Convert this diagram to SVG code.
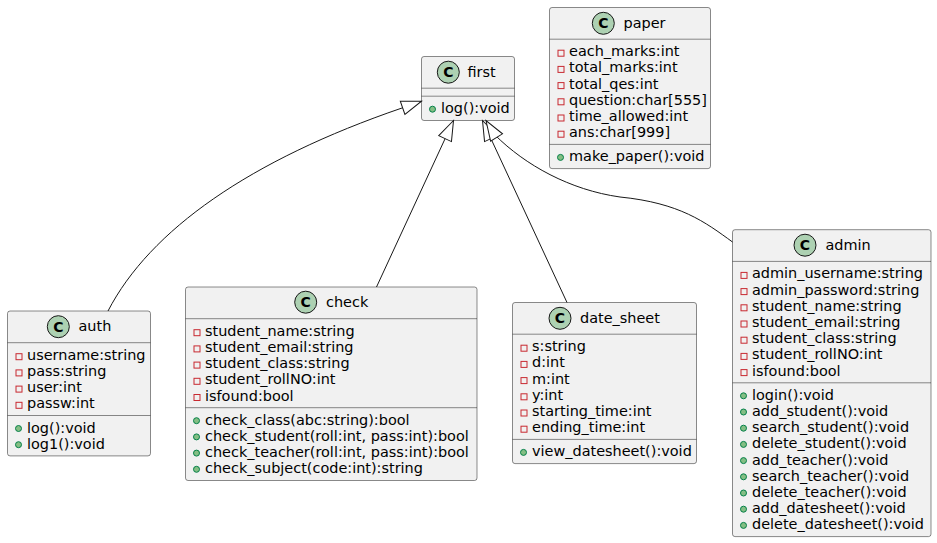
<svg xmlns="http://www.w3.org/2000/svg" width="937" height="543" viewBox="0 0 937 543">
<style>
.box{fill:#F1F1F1;stroke:#181818;stroke-width:0.5}
.div{stroke:#181818;stroke-width:0.5}
.circ{fill:#ADD1B2;stroke:#181818;stroke-width:1}
.cl{font-family:"DejaVu Sans",sans-serif;font-size:14px;font-weight:bold;fill:#000;text-anchor:middle}
.t{font-family:"DejaVu Sans",sans-serif;font-size:14.45px;fill:#000}
.priv{fill:none;stroke:#C82930;stroke-width:1}
.pub{fill:#84BE84;stroke:#038048;stroke-width:1}
.edge{fill:none;stroke:#181818;stroke-width:1}
</style>
<defs>
<marker id="ext" markerUnits="userSpaceOnUse" viewBox="-1 -1 22 16" markerWidth="22" markerHeight="16" refX="20" refY="7" orient="auto" overflow="visible">
<path d="M0,0 L20,7 L0,14 Z" fill="#FFFFFF" stroke="#181818" stroke-width="1"/>
</marker>
</defs>
<rect width="937" height="543" fill="#FFFFFF"/>

<g id="first">
<rect class="box" x="421.5" y="56.5" width="93" height="64" rx="2.5"/>
<circle class="circ" cx="448.3" cy="72.2" r="11"/>
<text class="cl" x="448.3" y="77.2">C</text>
<text class="t" x="467.5" y="76.7">first</text>
<line class="div" x1="421.5" y1="88.2" x2="514.5" y2="88.2"/>
<line class="div" x1="421.5" y1="96.2" x2="514.5" y2="96.2"/>
<circle class="pub" cx="432.5" cy="109.2" r="3"/>
<text class="t" x="441" y="113.2">log():void</text>
</g>

<g id="paper">
<rect class="box" x="549.5" y="7.5" width="161" height="161.1" rx="2.5"/>
<circle class="circ" cx="603.3" cy="23.3" r="11"/>
<text class="cl" x="603.3" y="28.3">C</text>
<text class="t" x="623.5" y="27.8">paper</text>
<line class="div" x1="549.5" y1="39.2" x2="710.5" y2="39.2"/>
<rect class="priv" x="558" y="50.2" width="6" height="6"/><text class="t" x="569" y="56.2">each_marks:int</text>
<rect class="priv" x="558" y="66.4" width="6" height="6"/><text class="t" x="569" y="72.4">total_marks:int</text>
<rect class="priv" x="558" y="82.6" width="6" height="6"/><text class="t" x="569" y="88.6">total_qes:int</text>
<rect class="priv" x="558" y="98.8" width="6" height="6"/><text class="t" x="569" y="104.8">question:char[555]</text>
<rect class="priv" x="558" y="115" width="6" height="6"/><text class="t" x="569" y="121">time_allowed:int</text>
<rect class="priv" x="558" y="131.2" width="6" height="6"/><text class="t" x="569" y="137.2">ans:char[999]</text>
<line class="div" x1="549.5" y1="144.4" x2="710.5" y2="144.4"/>
<circle class="pub" cx="560.5" cy="157.4" r="3"/><text class="t" x="569" y="161.4">make_paper():void</text>
</g>

<g id="auth">
<rect class="box" x="7.5" y="311" width="143" height="144.9" rx="2.5"/>
<circle class="circ" cx="58.3" cy="326.7" r="11"/>
<text class="cl" x="58.3" y="331.7">C</text>
<text class="t" x="78.5" y="330.7">auth</text>
<line class="div" x1="7.5" y1="342.7" x2="150.5" y2="342.7"/>
<rect class="priv" x="16" y="353.7" width="6" height="6"/><text class="t" x="27" y="359.7">username:string</text>
<rect class="priv" x="16" y="369.9" width="6" height="6"/><text class="t" x="27" y="375.9">pass:string</text>
<rect class="priv" x="16" y="386.1" width="6" height="6"/><text class="t" x="27" y="392.1">user:int</text>
<rect class="priv" x="16" y="402.3" width="6" height="6"/><text class="t" x="27" y="408.3">passw:int</text>
<line class="div" x1="7.5" y1="415.5" x2="150.5" y2="415.5"/>
<circle class="pub" cx="18.5" cy="428.5" r="3"/><text class="t" x="27" y="432.5">log():void</text>
<circle class="pub" cx="18.5" cy="444.7" r="3"/><text class="t" x="27" y="448.7">log1():void</text>
</g>

<g id="check">
<rect class="box" x="185.5" y="287" width="291.5" height="193.5" rx="2.5"/>
<circle class="circ" cx="305.7" cy="302.2" r="11"/>
<text class="cl" x="305.7" y="307.2">C</text>
<text class="t" x="326" y="306.7">check</text>
<line class="div" x1="185.5" y1="318.7" x2="477" y2="318.7"/>
<rect class="priv" x="194" y="329.7" width="6" height="6"/><text class="t" x="205" y="335.7">student_name:string</text>
<rect class="priv" x="194" y="345.9" width="6" height="6"/><text class="t" x="205" y="351.9">student_email:string</text>
<rect class="priv" x="194" y="362.1" width="6" height="6"/><text class="t" x="205" y="368.1">student_class:string</text>
<rect class="priv" x="194" y="378.3" width="6" height="6"/><text class="t" x="205" y="384.3">student_rollNO:int</text>
<rect class="priv" x="194" y="394.5" width="6" height="6"/><text class="t" x="205" y="400.5">isfound:bool</text>
<line class="div" x1="185.5" y1="407.7" x2="477" y2="407.7"/>
<circle class="pub" cx="196.5" cy="420.7" r="3"/><text class="t" x="205" y="424.7">check_class(abc:string):bool</text>
<circle class="pub" cx="196.5" cy="436.9" r="3"/><text class="t" x="205" y="440.9">check_student(roll:int, pass:int):bool</text>
<circle class="pub" cx="196.5" cy="453.1" r="3"/><text class="t" x="205" y="457.1">check_teacher(roll:int, pass:int):bool</text>
<circle class="pub" cx="196.5" cy="469.3" r="3"/><text class="t" x="205" y="473.3">check_subject(code:int):string</text>
</g>

<g id="date_sheet">
<rect class="box" x="512.5" y="302.5" width="184" height="161.1" rx="2.5"/>
<circle class="circ" cx="560" cy="318.3" r="11"/>
<text class="cl" x="560" y="323.3">C</text>
<text class="t" x="580" y="322.5">date_sheet</text>
<line class="div" x1="512.5" y1="334.2" x2="696.5" y2="334.2"/>
<rect class="priv" x="521" y="345.2" width="6" height="6"/><text class="t" x="532" y="351.2">s:string</text>
<rect class="priv" x="521" y="361.4" width="6" height="6"/><text class="t" x="532" y="367.4">d:int</text>
<rect class="priv" x="521" y="377.6" width="6" height="6"/><text class="t" x="532" y="383.6">m:int</text>
<rect class="priv" x="521" y="393.8" width="6" height="6"/><text class="t" x="532" y="399.8">y:int</text>
<rect class="priv" x="521" y="410" width="6" height="6"/><text class="t" x="532" y="416">starting_time:int</text>
<rect class="priv" x="521" y="426.2" width="6" height="6"/><text class="t" x="532" y="432.2">ending_time:int</text>
<line class="div" x1="512.5" y1="439.4" x2="696.5" y2="439.4"/>
<circle class="pub" cx="523.5" cy="452.4" r="3"/><text class="t" x="532" y="456.4">view_datesheet():void</text>
</g>

<g id="admin">
<rect class="box" x="732.5" y="229.7" width="198.5" height="306.9" rx="2.5"/>
<circle class="circ" cx="805" cy="245.2" r="11"/>
<text class="cl" x="805" y="250.2">C</text>
<text class="t" x="825.5" y="249.7">admin</text>
<line class="div" x1="732.5" y1="261.4" x2="931" y2="261.4"/>
<rect class="priv" x="741" y="272.4" width="6" height="6"/><text class="t" x="752" y="278.4">admin_username:string</text>
<rect class="priv" x="741" y="288.6" width="6" height="6"/><text class="t" x="752" y="294.6">admin_password:string</text>
<rect class="priv" x="741" y="304.8" width="6" height="6"/><text class="t" x="752" y="310.8">student_name:string</text>
<rect class="priv" x="741" y="321" width="6" height="6"/><text class="t" x="752" y="327">student_email:string</text>
<rect class="priv" x="741" y="337.2" width="6" height="6"/><text class="t" x="752" y="343.2">student_class:string</text>
<rect class="priv" x="741" y="353.4" width="6" height="6"/><text class="t" x="752" y="359.4">student_rollNO:int</text>
<rect class="priv" x="741" y="369.6" width="6" height="6"/><text class="t" x="752" y="375.6">isfound:bool</text>
<line class="div" x1="732.5" y1="382.8" x2="931" y2="382.8"/>
<circle class="pub" cx="743.5" cy="395.8" r="3"/><text class="t" x="752" y="399.8">login():void</text>
<circle class="pub" cx="743.5" cy="412" r="3"/><text class="t" x="752" y="416">add_student():void</text>
<circle class="pub" cx="743.5" cy="428.2" r="3"/><text class="t" x="752" y="432.2">search_student():void</text>
<circle class="pub" cx="743.5" cy="444.4" r="3"/><text class="t" x="752" y="448.4">delete_student():void</text>
<circle class="pub" cx="743.5" cy="460.6" r="3"/><text class="t" x="752" y="464.6">add_teacher():void</text>
<circle class="pub" cx="743.5" cy="476.8" r="3"/><text class="t" x="752" y="480.8">search_teacher():void</text>
<circle class="pub" cx="743.5" cy="493" r="3"/><text class="t" x="752" y="497">delete_teacher():void</text>
<circle class="pub" cx="743.5" cy="509.2" r="3"/><text class="t" x="752" y="513.2">add_datesheet():void</text>
<circle class="pub" cx="743.5" cy="525.4" r="3"/><text class="t" x="752" y="529.4">delete_datesheet():void</text>
</g>

<g id="connectors">
<path class="edge" d="M108,311 C150,230 250,160 402,108 L421.5,101.2" marker-end="url(#ext)"/>
<path class="edge" d="M376.5,287 L453.5,120.5" marker-end="url(#ext)"/>
<path class="edge" d="M567,302.5 L482.5,120.5" marker-end="url(#ext)"/>
<path class="edge" d="M732.5,242 C705,222 680,203 620,197 C570,190 525,165 495,135 L486,120.5" marker-end="url(#ext)"/>
</g>
</svg>
